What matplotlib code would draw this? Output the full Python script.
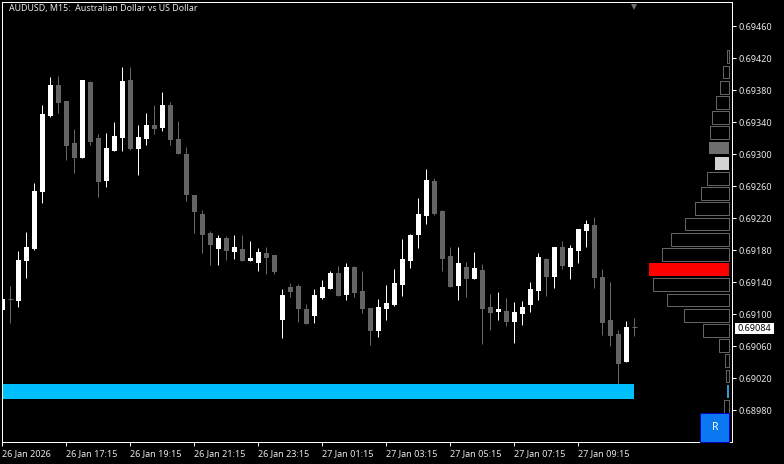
import matplotlib
matplotlib.use("Agg")
import matplotlib.pyplot as plt
import numpy as np

# AUDUSD M15 candles, prices
opens = [0.69106, 0.69119, 0.69117, 0.69167, 0.69182, 0.69253, 0.69348, 0.69387, 0.69367, 0.69314,
         0.69296, 0.69391, 0.69321, 0.69267, 0.69304, 0.69321, 0.69393, 0.69307, 0.69319, 0.69337,
         0.69333, 0.69362, 0.69319, 0.69301, 0.69249, 0.69226, 0.69202, 0.69182, 0.69196, 0.69178,
         0.69182, 0.69167, 0.69164, 0.69177, 0.69174, 0.69093, 0.69134, 0.69136, 0.69107, 0.69098,
         0.69121, 0.69132, 0.69152, 0.69124, 0.69159, 0.69129, 0.69108, 0.69079, 0.69107, 0.69112,
         0.69137, 0.69167, 0.69199, 0.69223, 0.69267, 0.69229, 0.69173, 0.69136, 0.69159, 0.69144,
         0.69156, 0.69109, 0.69103, 0.69104, 0.69091, 0.69101, 0.69112, 0.69129, 0.69169, 0.69147,
         0.69184, 0.69159, 0.69179, 0.69204, 0.69212, 0.69147, 0.69093, 0.69076, 0.69041, 0.69084]
highs = [0.69119, 0.69136, 0.69179, 0.69203, 0.69264, 0.69362, 0.69397, 0.69398, 0.69367, 0.69332,
         0.69393, 0.69392, 0.69326, 0.69327, 0.69341, 0.69409, 0.69409, 0.69337, 0.69352, 0.69362,
         0.69378, 0.69366, 0.69342, 0.69309, 0.69249, 0.69231, 0.69204, 0.69199, 0.69198, 0.69199,
         0.69199, 0.69192, 0.69183, 0.69184, 0.69174, 0.69132, 0.69139, 0.69138, 0.69113, 0.69132,
         0.69143, 0.69154, 0.69161, 0.69164, 0.69161, 0.69154, 0.69108, 0.69119, 0.69137, 0.69157,
         0.69194, 0.69201, 0.69246, 0.69282, 0.69271, 0.69231, 0.69184, 0.69184, 0.69166, 0.69178,
         0.69163, 0.69126, 0.69128, 0.69121, 0.69116, 0.69117, 0.69141, 0.69177, 0.69171, 0.69184,
         0.69192, 0.69187, 0.69207, 0.69218, 0.69222, 0.69157, 0.69141, 0.69081, 0.69092, 0.69096]
lows = [0.69104, 0.69089, 0.69109, 0.69146, 0.69181, 0.69239, 0.69347, 0.69352, 0.69293, 0.69277,
        0.69296, 0.69312, 0.69247, 0.69259, 0.69304, 0.69304, 0.69306, 0.69274, 0.69312, 0.69326,
        0.69329, 0.69312, 0.69301, 0.69242, 0.69202, 0.69177, 0.69162, 0.69162, 0.69168, 0.69169,
        0.69167, 0.69167, 0.69154, 0.69151, 0.69151, 0.69071, 0.69122, 0.69091, 0.69088, 0.69089,
        0.69119, 0.69132, 0.69123, 0.69118, 0.69122, 0.69102, 0.69062, 0.69072, 0.69093, 0.69111,
        0.69123, 0.69158, 0.69183, 0.69213, 0.69224, 0.69154, 0.69134, 0.69118, 0.69122, 0.69144,
        0.69063, 0.69081, 0.69093, 0.69086, 0.69064, 0.69087, 0.69103, 0.69118, 0.69123, 0.69133,
        0.69157, 0.69144, 0.69164, 0.69184, 0.69133, 0.69074, 0.69061, 0.69013, 0.69041, 0.69073]
closes = [0.69119, 0.69119, 0.69168, 0.69184, 0.69254, 0.69351, 0.69387, 0.69364, 0.69311, 0.69296,
          0.69393, 0.69316, 0.69266, 0.69308, 0.69323, 0.69392, 0.69307, 0.69322, 0.69337, 0.69332,
          0.69362, 0.69318, 0.69301, 0.69249, 0.69228, 0.69199, 0.69187, 0.69196, 0.69179, 0.69184,
          0.69167, 0.69171, 0.69178, 0.69171, 0.69153, 0.69124, 0.69128, 0.69107, 0.69088, 0.69124,
          0.69134, 0.69152, 0.69123, 0.69159, 0.69127, 0.69107, 0.69079, 0.69109, 0.69114, 0.69139,
          0.69169, 0.69199, 0.69226, 0.69268, 0.69226, 0.69169, 0.69134, 0.69164, 0.69144, 0.69158,
          0.69107, 0.69102, 0.69107, 0.69091, 0.69103, 0.69109, 0.69132, 0.69172, 0.69147, 0.69184,
          0.69161, 0.69183, 0.69207, 0.69213, 0.69146, 0.69089, 0.69073, 0.69038, 0.69084, 0.69084]

# volume profile on the right, top bin first
profile_prices = [0.69422, 0.69403, 0.69384, 0.69365, 0.69346, 0.69327, 0.69308, 0.69289,
                  0.69270, 0.69251, 0.69232, 0.69213, 0.69194, 0.69175, 0.69156, 0.69137,
                  0.69118, 0.69099, 0.69080, 0.69061, 0.69042, 0.69023, 0.69004, 0.68985]
profile_volumes = [2, 6, 9, 13, 17, 19, 20, 14, 22, 28, 34, 44, 58, 67, 80, 76, 62, 45, 26, 10, 4, 3, 2, 5]
profile_colors = {6: "#6e6e6e", 7: "#d3d3d3", 14: "#ff0000", 22: "#3399cc"}

price_ticks = [0.69460, 0.69420, 0.69380, 0.69340, 0.69300, 0.69260, 0.69220,
               0.69180, 0.69140, 0.69100, 0.69060, 0.69020, 0.68980]
time_ticks = [0, 8, 16, 24, 32, 40, 48, 56, 64, 72]
time_labels = ["26 Jan 2026", "26 Jan 17:15", "26 Jan 19:15", "26 Jan 21:15", "26 Jan 23:15",
               "27 Jan 01:15", "27 Jan 03:15", "27 Jan 05:15", "27 Jan 07:15", "27 Jan 09:15"]
band_low = 0.68994
band_high = 0.69013
last_price = 0.69084

W, H = 784, 464
plt.rcParams["font.family"] = ["Noto Sans", "DejaVu Sans"]
# the small extra keeps 4.64 in from truncating to 463 px
fig = plt.figure(figsize=(W / 100 + 0.0001, H / 100 + 0.0001), dpi=100, facecolor="black")
ax = fig.add_axes([2.45 / W, (H - 442.45) / H, 730 / W, 440 / H], facecolor="black")
ax.set_xlim(0, 91.25)
ax.set_ylim(0.68940, 0.69490)

GRAY = "#646464"
idx = np.arange(len(opens))
o, h, l, c = np.array(opens), np.array(highs), np.array(lows), np.array(closes)
up = c > o
down = c < o
doji = c == o

# wicks first, bodies on top
ax.vlines(idx[up], l[up], h[up], color="white", lw=0.72, snap=True, zorder=2)
ax.vlines(idx[~up], l[~up], h[~up], color=GRAY, lw=0.72, snap=True, zorder=2)
ax.bar(idx[up], c[up] - o[up], bottom=o[up], width=5 / 8, color="white", lw=0, zorder=3)
ax.bar(idx[down], c[down] - o[down], bottom=o[down], width=5 / 8, color=GRAY, lw=0, zorder=3)
ax.hlines(o[doji], idx[doji] - 0.31, idx[doji] + 0.31, color=GRAY, lw=0.72, snap=True, zorder=3)

# support band
ax.bar(39.5, band_high - band_low, bottom=band_low, width=79, color="#00bfff", lw=0, zorder=4)

# chart shift marker
ax.plot([79], [0.69484], marker="v", ms=5, color="#6e6e6e", mew=0, clip_on=False, zorder=5)

# volume profile has its own x scale, 1 unit = 1 pixel from the right
ax2 = fig.add_axes(ax.get_position(), facecolor="none", sharey=ax)
ax2.set_xlim(726.5, -3.5)
ax2.axis("off")
for i in range(len(profile_volumes)):
    if i in profile_colors:
        ax2.barh(profile_prices[i], profile_volumes[i], height=0.00016,
                 color=profile_colors[i], lw=0, zorder=3)
    else:
        ax2.barh(profile_prices[i], profile_volumes[i], height=0.00016,
                 facecolor="none", edgecolor=GRAY, lw=0.72, zorder=3)

for s in ax.spines.values():
    s.set_color("white")
    s.set_linewidth(0.72)
ax.spines["left"].set_zorder(6)

ax.yaxis.tick_right()
ax.set_yticks(price_ticks)
ax.set_yticklabels(["%.5f" % p for p in price_ticks])
ax.set_xticks(time_ticks)
ax.set_xticklabels(time_labels, ha="left")
ax.tick_params(axis="both", colors="white", length=3, width=0.72, labelsize=6.5, labelcolor="#e8e8e8")
ax.tick_params(axis="y", pad=1.5)
ax.tick_params(axis="x", pad=2)

ax.text(6.5 / 730, 1 - 6.5 / 440, "AUDUSD, M15:  Australian Dollar vs US Dollar", transform=ax.transAxes,
        color="#e8e8e8", fontsize=6.4, va="center", ha="left")

# current price tag
fig.patches.append(plt.Rectangle((735 / W, (H - 334) / H), 39 / W, 11 / H, transform=fig.transFigure,
                                 facecolor="white", edgecolor="none"))
fig.text(754.5 / W, (H - 328.5) / H, "%.5f" % last_price, color="black", fontsize=6.5, ha="center", va="center")

# R button
fig.patches.append(plt.Rectangle((699.5 / W, (H - 442) / H), 29.5 / W, 29 / H, transform=fig.transFigure,
                                 facecolor="#0a78f0", edgecolor="#0000c0", lw=0.72, zorder=5))
fig.text(715 / W, (H - 427) / H, "R", color="white", fontsize=7.5, ha="center", va="center", zorder=6)

plt.savefig("out.png", dpi=100, facecolor="black")
